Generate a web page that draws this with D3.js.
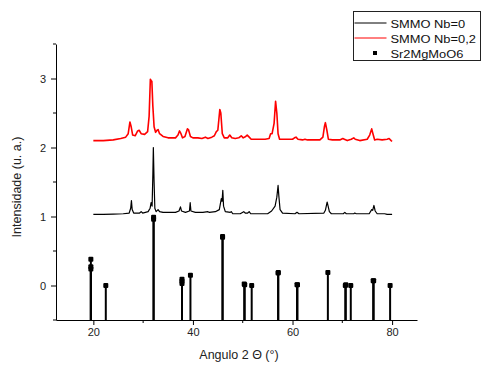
<!DOCTYPE html>
<html>
<head>
<meta charset="utf-8">
<script src="https://cdn.jsdelivr.net/npm/d3@7"></script>
<style>
  html, body { margin: 0; padding: 0; background: #fff; }
  svg { display: block; font-family: "Liberation Sans", Arial, sans-serif; }
</style>
</head>
<body>
<div id="chart"></div>
<script>
// SMMO Nb=0 pattern (2θ, intensity)
const nb0Angle = [20, 22, 24, 26, 27.2, 27.5, 27.65, 27.8, 28.1, 29.3, 29.6, 29.9, 31.0, 31.4, 31.6, 31.8, 31.95, 32.05, 32.2, 32.35, 32.6, 33.0, 33.3, 34, 36.5, 37.2, 37.5, 37.7, 38.5, 39.3, 39.45, 39.6, 40.5, 42, 43.0, 43.3, 44.5, 45.3, 45.7, 45.85, 46.0, 46.15, 46.5, 47.5, 47.7, 48, 49.5, 50.2, 50.5, 51.0, 51.3, 51.6, 55, 55.8, 56.5, 56.85, 57.1, 57.25, 57.5, 58, 60.5, 60.9, 61.3, 66.3, 66.6, 66.95, 67.15, 67.4, 67.8, 70.2, 70.5, 70.8, 72.3, 72.5, 72.8, 75.4, 75.9, 76.1, 76.35, 76.6, 77, 78.5, 79, 80];
const nb0Int = [1.03, 1.03, 1.035, 1.04, 1.05, 1.12, 1.23, 1.1, 1.05, 1.05, 1.07, 1.05, 1.07, 1.12, 1.2, 1.15, 1.6, 2.0, 1.5, 1.12, 1.07, 1.1, 1.07, 1.06, 1.06, 1.08, 1.14, 1.08, 1.06, 1.08, 1.2, 1.08, 1.06, 1.06, 1.07, 1.06, 1.07, 1.1, 1.26, 1.22, 1.38, 1.15, 1.07, 1.06, 1.07, 1.04, 1.04, 1.07, 1.05, 1.05, 1.07, 1.04, 1.04, 1.08, 1.15, 1.28, 1.45, 1.3, 1.1, 1.05, 1.04, 1.06, 1.04, 1.05, 1.09, 1.21, 1.15, 1.07, 1.04, 1.04, 1.06, 1.04, 1.04, 1.05, 1.04, 1.04, 1.1, 1.09, 1.16, 1.08, 1.04, 1.04, 1.03, 1.03];

// SMMO Nb=0,2 pattern
const nb02Angle = [20, 22, 24, 25.5, 26.5, 27.0, 27.35, 27.6, 27.9, 28.4, 28.9, 29.2, 29.6, 30.3, 30.9, 31.2, 31.45, 31.6, 31.75, 31.95, 32.2, 32.5, 32.8, 33.0, 33.3, 34, 35, 36.5, 37.0, 37.3, 37.6, 37.9, 38.4, 38.9, 39.1, 39.5, 40, 41, 41.8, 42.5, 43, 43.8, 44.3, 44.7, 45.0, 45.4, 45.6, 45.9, 46.3, 47.0, 47.4, 47.8, 48.5, 49.2, 49.7, 50.1, 50.6, 50.9, 51.3, 51.7, 53, 54.5, 55.3, 55.6, 55.9, 56.3, 56.6, 56.85, 57.1, 57.4, 58, 60, 60.4, 60.7, 61.1, 62, 62.5, 63, 65.5, 66.1, 66.4, 66.6, 66.9, 67.2, 68, 69.5, 70.1, 70.4, 71, 71.8, 72.3, 72.6, 73.5, 75, 75.5, 75.9, 76.15, 76.5, 77, 78, 79, 79.4, 79.8, 80];
const nb02Int = [2.10, 2.10, 2.11, 2.13, 2.15, 2.2, 2.37, 2.3, 2.18, 2.17, 2.24, 2.25, 2.2, 2.19, 2.23, 2.45, 2.99, 2.97, 2.96, 2.6, 2.3, 2.22, 2.25, 2.26, 2.2, 2.16, 2.14, 2.14, 2.18, 2.24, 2.2, 2.14, 2.16, 2.27, 2.26, 2.16, 2.14, 2.14, 2.13, 2.15, 2.13, 2.15, 2.17, 2.23, 2.25, 2.55, 2.5, 2.2, 2.14, 2.14, 2.18, 2.14, 2.13, 2.14, 2.17, 2.14, 2.16, 2.18, 2.15, 2.12, 2.12, 2.12, 2.13, 2.2, 2.2, 2.35, 2.67, 2.5, 2.2, 2.12, 2.12, 2.12, 2.14, 2.15, 2.12, 2.11, 2.12, 2.11, 2.11, 2.15, 2.3, 2.36, 2.25, 2.12, 2.11, 2.11, 2.13, 2.12, 2.1, 2.12, 2.14, 2.12, 2.1, 2.12, 2.18, 2.27, 2.2, 2.11, 2.12, 2.11, 2.12, 2.13, 2.1, 2.09];

// Sr2MgMoO6 reference reflections
const refAngle = [19.5, 19.5, 19.5, 22.5, 32.1, 32.1, 37.8, 37.8, 37.8, 39.5, 45.95, 45.95, 50.3, 50.4, 51.8, 57.1, 57.15, 60.9, 61.0, 67.1, 70.6, 70.7, 71.7, 76.2, 76.3, 79.6];
const refInt = [0.38, 0.27, 0.24, 0.0, 0.99, 0.96, 0.03, 0.06, 0.09, 0.15, 0.71, 0.70, 0.02, 0.01, 0.0, 0.18, 0.19, 0.01, 0.01, 0.19, 0.0, 0.01, 0.0, 0.07, 0.07, 0.0];

const xTicks = [20, 40, 60, 80];
const xMinor = [30, 50, 70];
const yTicks = [0, 1, 2, 3];
const yMinor = [-0.5, 0.5, 1.5, 2.5, 3.5];
const legendLabels = ['SMMO Nb=0', 'SMMO Nb=0,2', 'Sr2MgMoO6'];

const W = 481, H = 365;
const margin = { left: 56, right: 64, top: 44, bottom: 45 };

const svg = d3.select('#chart').append('svg')
  .attr('width', W)
  .attr('height', H);

const x = d3.scaleLinear().domain([12.5, 85]).range([margin.left, W - margin.right]);
const y = d3.scaleLinear().domain([-0.5, 3.5]).range([H - margin.bottom, margin.top]);

// reference stems
const refData = refAngle.map((a, i) => ({ a, v: refInt[i] }));
svg.append('g').selectAll('line')
  .data(refData)
  .enter().append('line')
  .attr('x1', d => x(d.a)).attr('x2', d => x(d.a))
  .attr('y1', y(-0.5)).attr('y2', d => y(d.v))
  .attr('stroke', '#000')
  .attr('stroke-width', 2);

svg.append('g').selectAll('rect')
  .data(refData)
  .enter().append('rect')
  .attr('x', d => x(d.a) - 2.5)
  .attr('y', d => y(d.v) - 2.5)
  .attr('width', 5).attr('height', 5)
  .attr('rx', 1)
  .attr('fill', '#000');

// patterns
const line = d3.line().x(d => x(d[0])).y(d => y(d[1]));

svg.append('path')
  .datum(nb0Angle.map((a, i) => [a, nb0Int[i]]))
  .attr('fill', 'none')
  .attr('stroke', '#000')
  .attr('stroke-width', 1.2)
  .attr('stroke-linejoin', 'round')
  .attr('d', line);

svg.append('path')
  .datum(nb02Angle.map((a, i) => [a, nb02Int[i]]))
  .attr('fill', 'none')
  .attr('stroke', '#f00')
  .attr('stroke-width', 1.6)
  .attr('stroke-linejoin', 'round')
  .attr('d', line);

// axes
const xAxis = svg.append('g')
  .attr('transform', `translate(0,${H - margin.bottom})`)
  .call(d3.axisBottom(x).tickValues(xTicks).tickSize(5).tickSizeOuter(0).tickPadding(3));
xAxis.append('g').selectAll('line')
  .data(xMinor)
  .enter().append('line')
  .attr('x1', d => x(d)).attr('x2', d => x(d))
  .attr('y1', 0).attr('y2', 3)
  .attr('stroke', '#000');

const yAxis = svg.append('g')
  .attr('transform', `translate(${margin.left},0)`)
  .call(d3.axisLeft(y).tickValues(yTicks).tickFormat(d3.format('d')).tickSize(5).tickSizeOuter(0).tickPadding(5));
yAxis.append('g').selectAll('line')
  .data(yMinor)
  .enter().append('line')
  .attr('y1', d => y(d)).attr('y2', d => y(d))
  .attr('x1', 0).attr('x2', -3)
  .attr('stroke', '#000');

svg.selectAll('.domain').attr('stroke', '#000').attr('stroke-width', 1);
svg.selectAll('.tick text')
  .attr('font-size', 11)
  .attr('font-family', '"Liberation Sans", Arial, sans-serif')
  .attr('fill', '#222');

// axis titles
svg.append('text')
  .attr('x', 239).attr('y', 359)
  .attr('text-anchor', 'middle')
  .attr('font-size', 12.5)
  .attr('fill', '#222')
  .text('Angulo 2 \u0398 (\u00b0)');

svg.append('text')
  .attr('transform', 'translate(21,187) rotate(-90)')
  .attr('text-anchor', 'middle')
  .attr('font-size', 12.5)
  .attr('fill', '#222')
  .text('Intensidade (u. a.)');

// legend
const lg = svg.append('g').attr('transform', 'translate(353.5,11.5)');
lg.append('rect')
  .attr('width', 127).attr('height', 49)
  .attr('fill', '#fff')
  .attr('stroke', '#222');

const rows = lg.selectAll('g.row')
  .data(legendLabels)
  .enter().append('g')
  .attr('class', 'row')
  .attr('transform', (d, i) => `translate(0,${11.5 + i * 15})`);

rows.filter((d, i) => i < 2).append('line')
  .attr('x1', 1).attr('x2', 33)
  .attr('stroke', (d, i) => i === 0 ? '#000' : '#f00')
  .attr('stroke-width', 1);

rows.filter((d, i) => i === 2).append('rect')
  .attr('x', 19.5).attr('y', -2).attr('width', 4).attr('height', 4)
  .attr('fill', '#000');

rows.append('text')
  .attr('transform', 'translate(37,4.5) scale(1.12,1)')
  .attr('font-size', 11.5)
  .attr('fill', '#111')
  .text(d => d);
</script>
</body>
</html>
